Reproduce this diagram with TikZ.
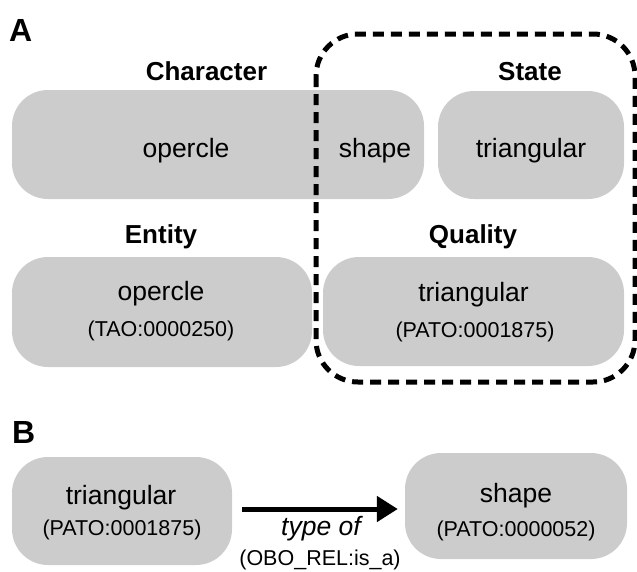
\documentclass[tikz,border=0pt]{standalone}
\usepackage{fontspec}
\setmainfont{Liberation Sans}
\usetikzlibrary{arrows.meta}
\definecolor{boxgray}{RGB}{204,204,204}
\begin{document}
\begin{tikzpicture}[x=1pt,y=-1pt,
  box/.style={fill=boxgray, draw=none, rounded corners=36pt, inner sep=0pt, minimum width=#1},
  box/.default=100pt,
  maintxt/.style={anchor=base, inner sep=0pt, font=\fontsize{26.5}{30}\selectfont},
  subtxt/.style={anchor=base, inner sep=0pt, font=\fontsize{21.5}{25}\selectfont},
  headtxt/.style={anchor=base, inner sep=0pt, font=\bfseries\fontsize{26}{30}\selectfont},
  paneltxt/.style={anchor=base west, inner sep=0pt, font=\bfseries\fontsize{32}{36}\selectfont},
  dashbox/.style={draw=black, line width=5pt, dash pattern=on 11pt off 7pt, rounded corners=42pt},
  arrowline/.style={line width=5pt, -{Triangle[length=21pt,width=25pt]}}
]
\useasboundingbox (0,0) rectangle (637,571);

% Panel A
\node[paneltxt] (labA) at (9,41) {A};
\node[headtxt] (hchar) at (206.5,80) {Character};
\node[headtxt] (hstate) at (530,80) {State};
\node[headtxt] (hentity) at (161,243) {Entity};
\node[headtxt] (hquality) at (473,243) {Quality};

\node[box=412pt, minimum height=109pt] (charbox) at (218,144.5) {};
\node[box=186pt, minimum height=108pt] (statebox) at (531,145) {};
\node[box=300pt, minimum height=110pt] (entitybox) at (162,312) {};
\node[box=301pt, minimum height=109pt] (qualitybox) at (473.5,311.5) {};

\node[maintxt] (charop) at (186,157) {opercle};
\node[maintxt] (charsh) at (375,157) {shape};
\node[maintxt] (statetri) at (531,157) {triangular};
\node[maintxt] (entop) at (161,300) {opercle};
\node[subtxt] (entid) at (161,336) {(TAO:0000250)};
\node[maintxt] (qualtri) at (473.5,301) {triangular};
\node[subtxt] (qualid) at (475,337) {(PATO:0001875)};

\draw[dashbox] (316,34) rectangle (635,382);

% Panel B
\node[paneltxt] (labB) at (12,443) {B};
\node[box=220pt, minimum height=108pt] (lb) at (122,511) {};
\node[box=222pt, minimum height=106pt] (rb) at (516,506) {};
\node[maintxt] (lbtri) at (121,504) {triangular};
\node[subtxt] (lbid) at (122,535) {(PATO:0001875)};
\node[maintxt] (rbsh) at (516,502) {shape};
\node[subtxt] (rbid) at (516,536) {(PATO:0000052)};

\coordinate (ay) at (0,509);
\draw[arrowline, shorten <=10pt, shorten >=7pt] (lb.east |- ay) -- (rb.west |- ay);
\node[maintxt, font=\itshape\fontsize{26.5}{30}\selectfont] (relname) at (321,535) {type of};
\node[subtxt] (relid) at (320,565) {(OBO\_REL:is\_a)};
\end{tikzpicture}
\end{document}
